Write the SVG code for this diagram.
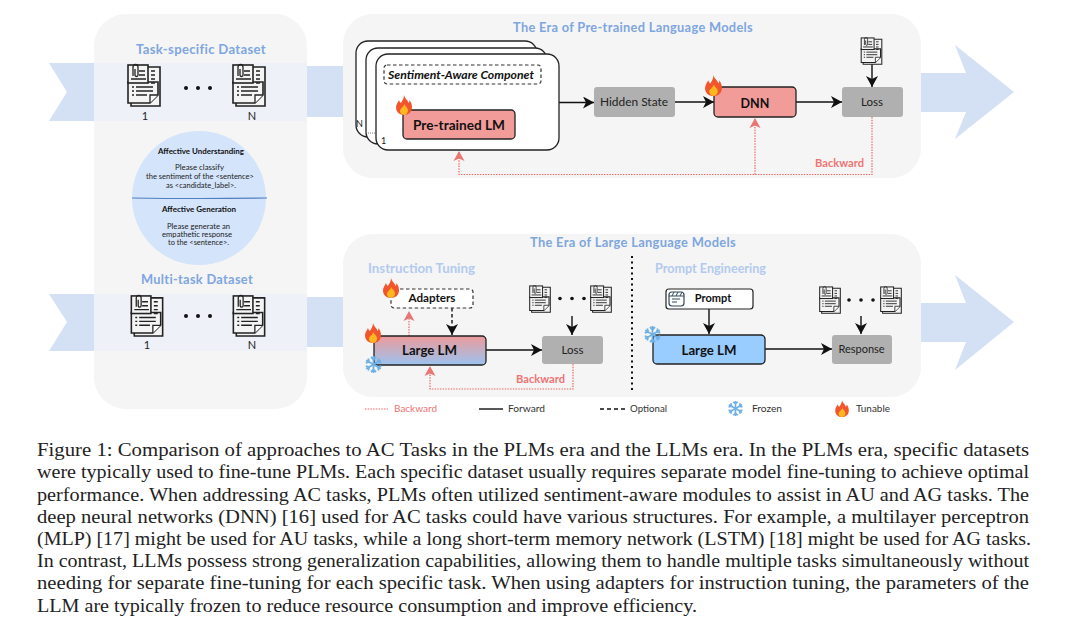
<svg xmlns="http://www.w3.org/2000/svg" xmlns:xlink="http://www.w3.org/1999/xlink" width="1080" height="630" viewBox="0 0 1080 630">
<style>
.hw{font-family:"Lato","Open Sans","DejaVu Sans",sans-serif}
.title{font-size:12.5px;font-weight:700;fill:#7ea6e0;letter-spacing:.3px}
.sub{font-size:12.5px;font-weight:700;fill:#b3caef}
.lbl{font-size:11px;fill:#222;text-anchor:middle}
.blbl{font-size:12.5px;font-weight:700;fill:#111;text-anchor:middle}
.tiny{font-size:6.6px;fill:#222;text-anchor:middle}
.tinyb{font-size:6.8px;font-weight:700;fill:#111;text-anchor:middle}
.red{font-size:10.5px;font-weight:700;fill:#f07474}
.leg{font-size:9.5px;fill:#333}
.cap{font-family:"Liberation Serif","Times New Roman",serif;font-size:18px;fill:#222}
.panel{fill:#f5f5f5}
.rib{fill:#d4e1f5}
.ribin{fill:#eef1f7}
.gray{fill:#b0b0b0}
.card{fill:#fff;stroke:#222;stroke-width:1.3}
.hot{fill:#f19c99;stroke:#222;stroke-width:1.3}
.dash{fill:#fff;stroke:#333;stroke-width:1.2;stroke-dasharray:3.5 2.5}
.fw{fill:none;stroke:#111;stroke-width:1.4;marker-end:url(#ah)}
.bk{fill:none;stroke:#ea6b66;stroke-width:1.2;stroke-dasharray:1.5 1.2}
</style>
<defs>
<marker id="ah" markerUnits="userSpaceOnUse" markerWidth="14" markerHeight="14" refX="11" refY="6" orient="auto"><path d="M0 0L11 6L0 12L3 6z" fill="#111"/></marker>
<linearGradient id="lmg" x1="0" y1="0" x2="0" y2="1"><stop offset="0" stop-color="#ec9a9a"/><stop offset="1" stop-color="#9cc3f0"/></linearGradient>
<symbol id="doc" viewBox="0 0 34 45" overflow="visible">
<path d="M21 5H33V44H4V41" fill="#f4f4f4" stroke="#222" stroke-width="1.600"/>
<path d="M1 20V41H23L31 33V20z" fill="#f4f4f4" stroke="#222" stroke-width="1.600"/>
<path d="M23 41V33H31" fill="#fff" stroke="#222" stroke-width="1.300"/>
<rect x="1" y="3" width="20" height="18" fill="#f4f4f4" stroke="#222" stroke-width="1.600"/>
<path d="M6 14V5a2.500 2.500 0 0 1 5 0V13a1.500 1.500 0 0 1-3 0V7" fill="none" stroke="#222" stroke-width="1.300"/>
<path d="M12 9H18M12 13H18M4 17H19M24 9H28M24 13H28M24 17H28M24 21H28M5 25H7M9 25H26M5 29H7M9 29H26M5 33H7M9 33H20" stroke="#222" stroke-width="1.400" fill="none"/>
</symbol>
<symbol id="flame" viewBox="0 0 16 20" overflow="visible">
<path d="M8 0C9 4 12 5 12.500 8C13.500 7 13.500 6 13.500 5C15.500 8 16 10 16 12.500C16 17 12.500 20 8 20C3.500 20 0 17 0 12.500C0 9 2 7.500 3 5C3.500 6.500 4 7.500 5 8C6.500 5.500 8 3 8 0z" fill="#f2552c"/>
<path d="M8.500 9C9 11.500 12 12.500 12 15.500C12 18 10 20 8 20C5.500 20 4 18 4 15.800C4 13.500 7.500 12 8.500 9z" fill="#fbb81f"/>
</symbol>
<g id="arm"><path d="M0 0V-8.500M0 -5L-2.500 -7.500M0 -5L2.500 -7.500" fill="none" stroke="#6fb1e6" stroke-width="1.800"/></g>
<symbol id="snow" viewBox="-9.500 -9.500 19 19" overflow="visible">
<use xlink:href="#arm"/><use xlink:href="#arm" transform="rotate(60)"/><use xlink:href="#arm" transform="rotate(120)"/><use xlink:href="#arm" transform="rotate(180)"/><use xlink:href="#arm" transform="rotate(240)"/><use xlink:href="#arm" transform="rotate(300)"/>
</symbol>
</defs>
<rect width="1080" height="630" fill="#fff"/>

<g id="ribbons">
<path class="rib" d="M49 63H94V121H49L67 92z"/>
<path class="rib" d="M49 294H94V351H49L67 322z"/>
<rect class="rib" x="307" y="66" width="36" height="51"/>
<rect class="rib" x="307" y="297" width="36" height="50"/>
<path class="rib" d="M921 73H966L955 45L1014 92L955 139L966 112H921z"/>
<path class="rib" d="M921 303H966L955 275L1014 322L955 370L966 342H921z"/>
</g>

<g id="dataset-panel">
<rect class="panel" x="94" y="14" width="213" height="395" rx="32"/>
<rect class="ribin" x="94" y="63" width="213" height="58"/>
<rect class="ribin" x="94" y="294" width="213" height="57"/>
<text class="hw title" x="136" y="54" textLength="130" lengthAdjust="spacingAndGlyphs">Task-specific Dataset</text>
<text class="hw title" x="141" y="284" textLength="112" lengthAdjust="spacingAndGlyphs">Multi-task Dataset</text>
<use xlink:href="#doc" x="127" y="62" width="34" height="45"/>
<use xlink:href="#doc" x="232" y="62" width="34" height="45"/>
<use xlink:href="#doc" x="130" y="293" width="34" height="44"/>
<use xlink:href="#doc" x="232" y="293" width="34" height="44"/>
<g fill="#111"><circle cx="186" cy="88" r="2"/><circle cx="198" cy="88" r="2"/><circle cx="210" cy="88" r="2"/><circle cx="186" cy="316" r="2"/><circle cx="198" cy="316" r="2"/><circle cx="210" cy="316" r="2"/></g>
<text class="hw lbl" x="145" y="120">1</text><text class="hw lbl" x="252" y="120">N</text>
<text class="hw lbl" x="147" y="349">1</text><text class="hw lbl" x="252" y="349">N</text>
</g>

<g id="task-circle">
<circle cx="199" cy="198" r="67" fill="#d4e4fa"/>
<path d="M132 198Q199 199 267 198" stroke="#4f7fbf" stroke-width="1.200" fill="none"/>
<text class="hw tinyb" x="201" y="154" textLength="86" lengthAdjust="spacingAndGlyphs">Affective Understanding</text>
<text class="hw tiny" x="199.500" y="170" textLength="49" lengthAdjust="spacingAndGlyphs">Please classify</text>
<text class="hw tiny" x="200" y="179" textLength="108" lengthAdjust="spacingAndGlyphs">the sentiment of the &lt;sentence&gt;</text>
<text class="hw tiny" x="201" y="188" textLength="70" lengthAdjust="spacingAndGlyphs">as &lt;candidate_label&gt;.</text>
<text class="hw tinyb" x="199" y="212" textLength="74" lengthAdjust="spacingAndGlyphs">Affective Generation</text>
<text class="hw tiny" x="198.500" y="229" textLength="63" lengthAdjust="spacingAndGlyphs">Please generate an</text>
<text class="hw tiny" x="197" y="237" textLength="70" lengthAdjust="spacingAndGlyphs">empathetic response</text>
<text class="hw tiny" x="198.500" y="245" textLength="61" lengthAdjust="spacingAndGlyphs">to the &lt;sentence&gt;.</text>
</g>

<g id="plm-panel">
<rect class="panel" x="343" y="14" width="578" height="164" rx="30"/>
<text class="hw title" x="513" y="32" textLength="240" lengthAdjust="spacingAndGlyphs">The Era of Pre-trained Language Models</text>
</g>
<g id="llm-panel">
<rect class="panel" x="343" y="234" width="578" height="163" rx="30"/>
<text class="hw title" x="530" y="247" textLength="206" lengthAdjust="spacingAndGlyphs">The Era of Large Language Models</text>
<text class="hw sub" x="368" y="273" textLength="107" lengthAdjust="spacingAndGlyphs">Instruction Tuning</text>
<text class="hw sub" x="655" y="273" textLength="111" lengthAdjust="spacingAndGlyphs">Prompt Engineering</text>
<path d="M632 256V390" stroke="#111" stroke-width="2" stroke-dasharray="2 3.500" fill="none"/>
</g>

<g id="connectors">
<path class="fw" d="M559 102.500H594"/>
<path class="fw" d="M675 102H714"/>
<path class="fw" d="M796 102H842"/>
<path class="fw" d="M872 64V87"/>
<path class="bk" d="M872 117V174.500H459V152"/>
<path class="bk" d="M755 174.500V119"/>
<path d="M459 151L453.500 161L459 158.500L464.500 161z" fill="#ea7672"/>
<path d="M755 118L749.500 128L755 125.500L760.500 128z" fill="#ea7672"/>
<path class="fw" d="M486 350H542"/>
<path class="fw" d="M572 316V335"/>
<path class="fw" d="M452 308V335" stroke-dasharray="3.500 2.500"/>
<path class="bk" d="M409 336V313"/>
<path d="M409 311L403.500 321L409 318.500L414.500 321z" fill="#ea7672"/>
<path class="bk" d="M573 364V389H430V368"/>
<path d="M430 366L424.500 376L430 373.500L435.500 376z" fill="#ea7672"/>
<path class="fw" d="M709 309V334"/>
<path class="fw" d="M765 349H832"/>
<path class="fw" d="M861 316V334"/>
</g>

<g id="plm-stack">
<rect class="card" x="356" y="41" width="181" height="96" rx="12"/>
<rect class="card" x="366" y="48" width="181" height="96" rx="12"/>
<rect class="card" x="376" y="54" width="183" height="96" rx="12"/>
<text class="hw" x="356" y="127" font-size="9" fill="#222">N</text>
<text class="hw" x="381" y="144" font-size="9" fill="#222">1</text>
<path d="M368 133H375" stroke="#777" stroke-width="1" stroke-dasharray="1 1"/>
</g>
<g id="sentiment-component">
<rect class="dash" x="384" y="65" width="157" height="19" rx="3"/>
<text class="hw blbl" x="461" y="79" style="font-size:11px;font-style:italic" textLength="146" lengthAdjust="spacingAndGlyphs">Sentiment-Aware Componet</text>
</g>
<g id="pretrained-lm">
<rect class="hot" x="403" y="110" width="112" height="29" rx="4"/>
<text class="hw blbl" x="459" y="130" textLength="92" lengthAdjust="spacingAndGlyphs">Pre-trained LM</text>
<use xlink:href="#flame" x="396" y="95" width="16" height="20"/>
</g>
<g id="hidden-state">
<rect class="gray" x="594" y="87" width="81" height="30" rx="3"/>
<text class="hw lbl" x="634" y="106" textLength="68" lengthAdjust="spacingAndGlyphs">Hidden State</text>
</g>
<g id="dnn">
<rect class="hot" x="714" y="87" width="82" height="30" rx="4"/>
<text class="hw blbl" x="755" y="108">DNN</text>
<use xlink:href="#flame" x="705" y="75" width="17" height="21"/>
</g>
<g id="plm-loss">
<rect class="gray" x="842" y="87" width="61" height="30" rx="3"/>
<text class="hw lbl" x="872" y="106" textLength="22" lengthAdjust="spacingAndGlyphs">Loss</text>
<use xlink:href="#doc" x="860" y="36" width="23" height="29"/>
</g>
<text class="hw red" x="815" y="167" textLength="49" lengthAdjust="spacingAndGlyphs">Backward</text>

<g id="adapters">
<rect class="dash" x="391" y="289" width="82" height="19" rx="3"/>
<text class="hw blbl" x="432" y="302" style="font-size:11px" textLength="47" lengthAdjust="spacingAndGlyphs">Adapters</text>
<use xlink:href="#flame" x="383" y="278" width="16" height="20"/>
</g>
<g id="large-lm-tuning">
<rect x="374" y="336" width="112" height="29" rx="4" fill="url(#lmg)" stroke="#222" stroke-width="1.300"/>
<text class="hw blbl" x="429.500" y="355" textLength="55" lengthAdjust="spacingAndGlyphs">Large LM</text>
<use xlink:href="#flame" x="365" y="323" width="16" height="20"/>
<use xlink:href="#snow" x="364" y="355" width="19" height="19"/>
</g>
<g id="llm-loss">
<rect class="gray" x="542" y="336" width="61" height="28" rx="3"/>
<text class="hw lbl" x="572.500" y="354" textLength="22" lengthAdjust="spacingAndGlyphs">Loss</text>
</g>
<g id="llm-docs-left">
<use xlink:href="#doc" x="529" y="284" width="22" height="29"/>
<use xlink:href="#doc" x="590" y="284" width="22" height="29"/>
<g fill="#111"><circle cx="560" cy="298.500" r="1.800"/><circle cx="572" cy="298.500" r="1.800"/><circle cx="584" cy="298.500" r="1.800"/></g>
</g>
<text class="hw red" x="516" y="383" textLength="49" lengthAdjust="spacingAndGlyphs">Backward</text>

<g id="prompt">
<rect x="666" y="289" width="87" height="20" rx="3" fill="#fff" stroke="#222" stroke-width="1.200"/>
<rect x="669" y="292" width="15" height="14" rx="3" fill="#fff" stroke="#34495e" stroke-width="1.200"/>
<path d="M669 296H684M672 296L674 292M676 296L678 292M680 296L682 292M672 299H680M672 302H677" stroke="#34495e" stroke-width="1" fill="none"/>
<text class="hw blbl" x="713" y="302" style="font-size:11px">Prompt</text>
</g>
<g id="large-lm-prompt">
<rect x="653" y="335" width="112" height="29" rx="4" fill="#99ccff" stroke="#222" stroke-width="1.300"/>
<text class="hw blbl" x="709" y="355" textLength="55" lengthAdjust="spacingAndGlyphs">Large LM</text>
<use xlink:href="#snow" x="643" y="325" width="19" height="19"/>
</g>
<g id="response">
<rect class="gray" x="832" y="335" width="60" height="29" rx="3"/>
<text class="hw lbl" x="861.500" y="353">Response</text>
</g>
<g id="llm-docs-right">
<use xlink:href="#doc" x="819" y="285" width="22" height="29"/>
<use xlink:href="#doc" x="880" y="285" width="22" height="29"/>
<g fill="#111"><circle cx="849" cy="300" r="1.800"/><circle cx="861" cy="300" r="1.800"/><circle cx="873" cy="300" r="1.800"/></g>
</g>

<g id="legend">
<path class="bk" d="M365 409H388"/>
<text class="hw leg" x="394" y="412" style="fill:#f07474" textLength="43" lengthAdjust="spacingAndGlyphs">Backward</text>
<path d="M479 409H503" stroke="#111" stroke-width="1.400"/>
<text class="hw leg" x="508" y="412" textLength="37" lengthAdjust="spacingAndGlyphs">Forward</text>
<path d="M600 409H625" stroke="#111" stroke-width="1.400" stroke-dasharray="4 3"/>
<text class="hw leg" x="630" y="412" textLength="37" lengthAdjust="spacingAndGlyphs">Optional</text>
<use xlink:href="#snow" x="727" y="400" width="17" height="17"/>
<text class="hw leg" x="752" y="412" textLength="30" lengthAdjust="spacingAndGlyphs">Frozen</text>
<use xlink:href="#flame" x="835" y="400" width="14" height="17"/>
<text class="hw leg" x="856" y="412" textLength="34" lengthAdjust="spacingAndGlyphs">Tunable</text>
</g>

<g id="caption">
<text class="cap" x="37" y="456" textLength="992" lengthAdjust="spacingAndGlyphs">Figure 1: Comparison of approaches to AC Tasks in the PLMs era and the LLMs era. In the PLMs era, specific datasets</text>
<text class="cap" x="37" y="478" textLength="992" lengthAdjust="spacingAndGlyphs">were typically used to fine-tune PLMs. Each specific dataset usually requires separate model fine-tuning to achieve optimal</text>
<text class="cap" x="37" y="500.500" textLength="992" lengthAdjust="spacingAndGlyphs">performance. When addressing AC tasks, PLMs often utilized sentiment-aware modules to assist in AU and AG tasks. The</text>
<text class="cap" x="37" y="522.500" textLength="992" lengthAdjust="spacingAndGlyphs">deep neural networks (DNN) [16] used for AC tasks could have various structures. For example, a multilayer perceptron</text>
<text class="cap" x="37" y="545" textLength="994" lengthAdjust="spacingAndGlyphs">(MLP) [17] might be used for AU tasks, while a long short-term memory network (LSTM) [18] might be used for AG tasks.</text>
<text class="cap" x="37" y="567" textLength="992" lengthAdjust="spacingAndGlyphs">In contrast, LLMs possess strong generalization capabilities, allowing them to handle multiple tasks simultaneously without</text>
<text class="cap" x="37" y="589" textLength="992" lengthAdjust="spacingAndGlyphs">needing for separate fine-tuning for each specific task. When using adapters for instruction tuning, the parameters of the</text>
<text class="cap" x="37" y="611.500" textLength="660" lengthAdjust="spacingAndGlyphs">LLM are typically frozen to reduce resource consumption and improve efficiency.</text>
</g>
</svg>
